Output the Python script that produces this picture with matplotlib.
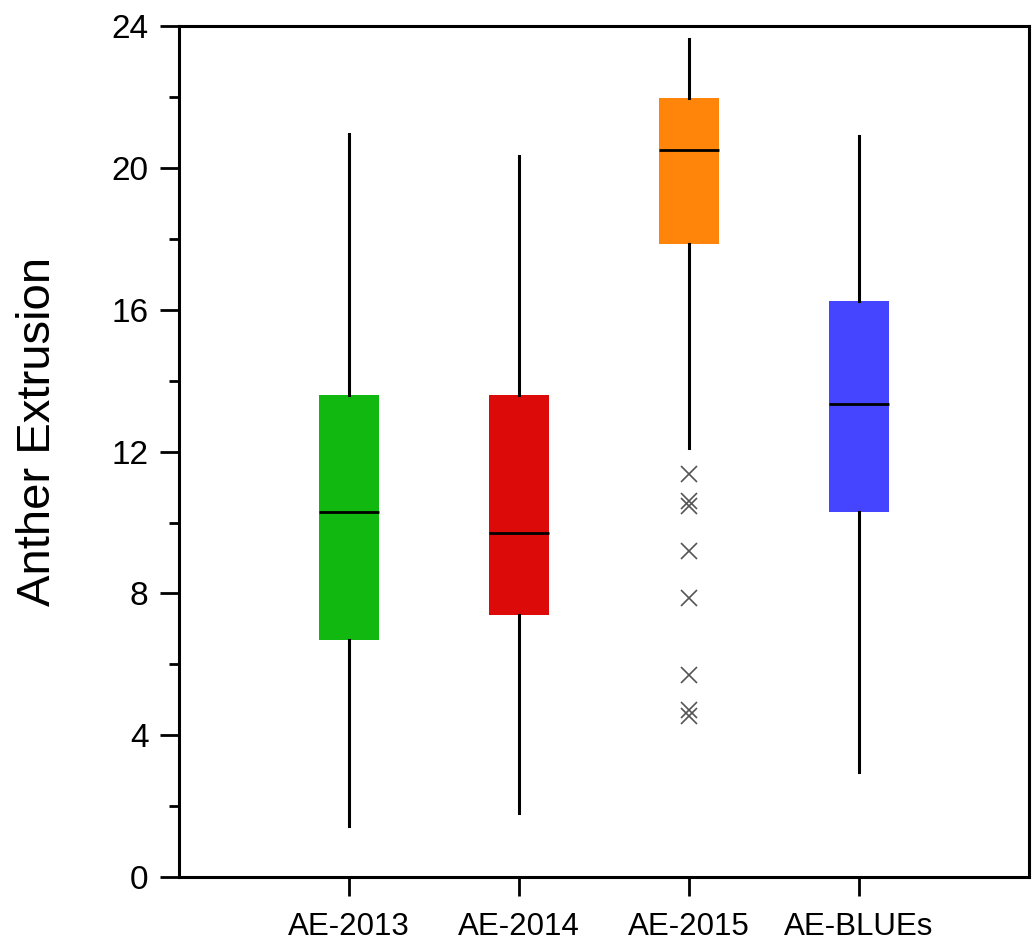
import matplotlib
matplotlib.use('Agg')
import matplotlib.pyplot as plt
from matplotlib.ticker import MultipleLocator

plt.rcParams['font.family'] = ['Liberation Sans', 'DejaVu Sans']

# Box statistics
labels = ['AE-2013', 'AE-2014', 'AE-2015', 'AE-BLUEs']
whislo = [1.45, 1.8, 12.1, 2.95]
q1 = [6.7, 7.4, 17.85, 10.3]
med = [10.3, 9.7, 20.5, 13.35]
q3 = [13.6, 13.6, 21.97, 16.25]
whishi = [20.95, 20.35, 23.65, 20.9]
fliers = [[], [], [11.38, 10.6, 10.48, 9.2, 7.88, 5.7, 4.72, 4.55], []]
colors = ['#10B810', '#DD0A0A', '#FF840A', '#4545FF']

stats = []
for i in range(len(labels)):
    stats.append({
        'label': labels[i], 'whislo': whislo[i], 'q1': q1[i], 'med': med[i],
        'q3': q3[i], 'whishi': whishi[i], 'fliers': fliers[i],
    })

fig = plt.figure(figsize=(10.35, 9.4), dpi=100)
ax = fig.add_axes([0.173, 0.067, 0.821, 0.905])

bp = ax.bxp(stats, positions=[1, 2, 3, 4], widths=0.35, patch_artist=True,
            showcaps=False,
            boxprops=dict(linewidth=0),
            medianprops=dict(color='black', linewidth=2),
            whiskerprops=dict(color='black', linewidth=2.2),
            flierprops=dict(marker='x', markeredgecolor='#555555',
                            markersize=12, markeredgewidth=1.2, linestyle='none'),
            zorder=3)
for patch, c in zip(bp['boxes'], colors):
    patch.set_facecolor(c)
    patch.set_edgecolor(c)

ax.set_xlim(0, 5)
ax.set_ylim(0, 24)
ax.yaxis.set_major_locator(MultipleLocator(4))
ax.yaxis.set_minor_locator(MultipleLocator(2))
ax.set_xticks([1, 2, 3, 4])
ax.set_xticklabels(labels, fontsize=22.5)
ax.tick_params(axis='y', labelsize=24, width=2, length=14, direction='out', pad=8)
ax.tick_params(axis='y', which='minor', width=2, length=7)
ax.tick_params(axis='x', width=2, length=14, direction='out', pad=11)
for s in ax.spines.values():
    s.set_linewidth(2.2)

ax.set_ylabel('Anther Extrusion', fontsize=34)
ax.yaxis.set_label_coords(-0.140, 0.524)

fig.savefig('out.png', dpi=100)
